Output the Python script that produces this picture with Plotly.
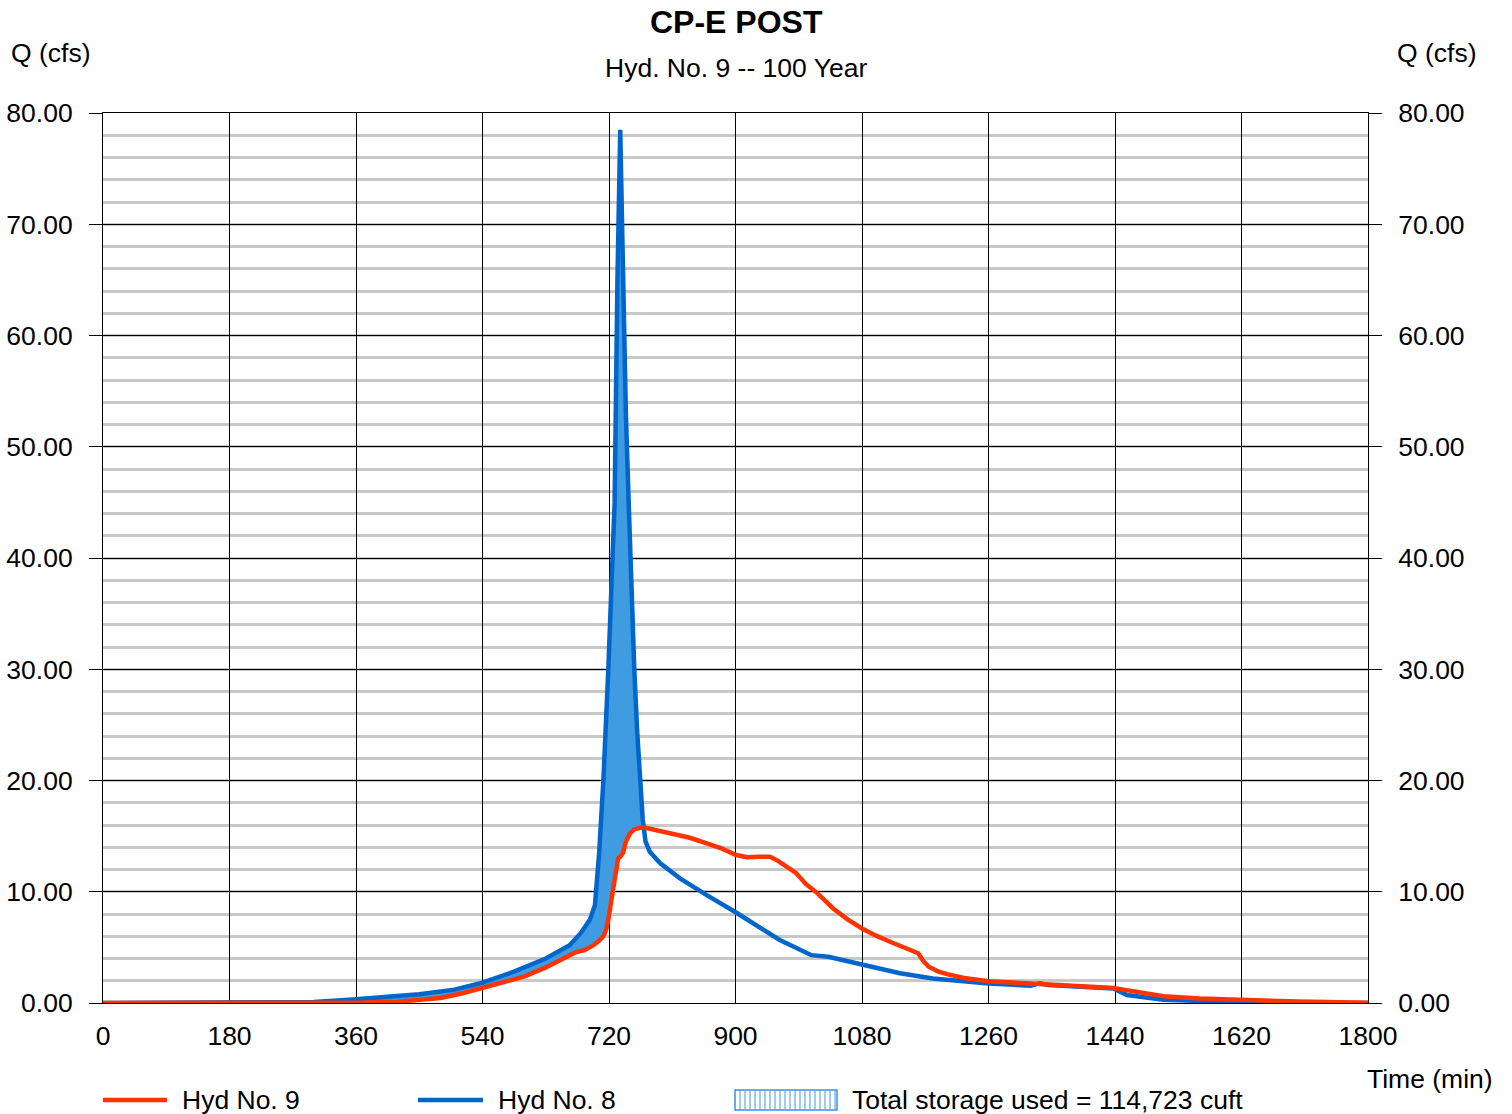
import numpy as np
import plotly.graph_objects as go

# ---------------- data ----------------
t_inflow = [0, 240, 300, 360, 400, 450, 500, 540, 584, 630, 664, 680, 693, 700, 706, 712, 719,
            724, 728, 732, 736, 738, 741, 744, 748, 752, 756, 760, 764, 768, 772, 778, 793,
            821, 859, 899, 963, 1008, 1032, 1080, 1134, 1181, 1260, 1320, 1333, 1345, 1438,
            1448, 1457, 1509, 1560, 1618, 1700, 1800]
q_inflow = [0, 0, 0.08, 0.33, 0.5, 0.78, 1.2, 1.83, 2.8, 4.0, 5.2, 6.3, 7.5, 8.8, 13.5, 20, 30,
            38, 45, 65, 78.5, 72, 62, 53, 45, 37, 30, 24.5, 20, 16.5, 14.5, 13.6, 12.55,
            11.2, 9.7, 8.2, 5.66, 4.3, 4.16, 3.42, 2.67, 2.2, 1.75, 1.55, 1.78, 1.62, 1.3,
            1.0, 0.72, 0.3, 0.15, 0.05, 0.01, 0]

t_outflow = [0, 300, 360, 420, 450, 480, 510, 540, 600, 630, 660, 672, 685, 698, 706, 712, 716,
             719, 724, 728.5, 733, 736, 740, 744, 750, 756, 764, 772, 790, 812, 835, 859, 880,
             901, 916, 935, 949, 960, 972, 986, 1000, 1016, 1039, 1060, 1080, 1100, 1125,
             1145, 1160, 1167, 1175, 1188, 1201, 1225, 1248, 1260, 1300, 1329, 1380, 1438,
             1452, 1480, 1509, 1560, 1618, 1700, 1800]
q_outflow = [0, 0, 0.03, 0.12, 0.25, 0.45, 0.85, 1.35, 2.4, 3.2, 4.2, 4.55, 4.75, 5.2, 5.6, 6.0,
             6.6, 7.46, 9.5, 11.06, 13.0, 13.15, 13.5, 14.5, 15.25, 15.6, 15.75, 15.75, 15.5,
             15.25, 14.85, 14.35, 13.9, 13.3, 13.1, 13.15, 13.15, 12.8, 12.3, 11.7, 10.7, 9.9,
             8.5, 7.5, 6.7, 6.05, 5.37, 4.85, 4.47, 3.8, 3.26, 2.85, 2.6, 2.25, 2.07, 1.95,
             1.82, 1.72, 1.55, 1.35, 1.2, 0.9, 0.6, 0.4, 0.27, 0.13, 0.02]

x_ticks = [0, 180, 360, 540, 720, 900, 1080, 1260, 1440, 1620, 1800]
y_ticks = [0, 10, 20, 30, 40, 50, 60, 70, 80]

title = "CP-E POST"
subtitle = "Hyd. No. 9 -- 100 Year"
name_out = "Hyd No. 9"
name_in = "Hyd No. 8"
storage_label = "Total storage used = 114,723 cuft"

RED = "#ff3300"
BLUE = "#0066cc"
FILL = "#409ce0"
FONT = "Liberation Sans, Arial, sans-serif"
FS = 26.5

# ---------------- geometry (page pixels) ----------------
W, H = 1512, 1114
L, R, T, B = 103, 1368, 113, 1003


def px(xp):
    return (xp - L) / (R - L)


def py(yp):
    return (B - yp) / (B - T)


# ---------------- storage fill (between inflow and outflow) ----------------
grid = np.union1d(t_inflow, t_outflow)
qi = np.interp(grid, t_inflow, q_inflow)
qo = np.interp(grid, t_outflow, q_outflow)
peak_t = t_inflow[int(np.argmax(q_inflow))]
after = (grid > peak_t) & (qi <= qo)
idx = np.where(after)[0][0]
t0, t1 = grid[idx - 1], grid[idx]
d0, d1 = qi[idx - 1] - qo[idx - 1], qi[idx] - qo[idx]
tc = t0 + (t1 - t0) * d0 / (d0 - d1)
mask = grid < tc
fx = np.append(grid[mask], tc)
f_low = np.interp(fx, t_outflow, q_outflow)
f_high = np.maximum(np.interp(fx, t_inflow, q_inflow), f_low)

fig = go.Figure()
fig.add_trace(go.Scatter(x=fx, y=f_low, mode="lines", line=dict(width=0),
                         hoverinfo="skip", showlegend=False))
fig.add_trace(go.Scatter(x=fx, y=f_high, mode="lines", line=dict(width=0),
                         fill="tonexty", fillcolor=FILL, hoverinfo="skip",
                         showlegend=False))
fig.add_trace(go.Scatter(x=t_inflow, y=q_inflow, mode="lines", name=name_in,
                         line=dict(color=BLUE, width=4.5), showlegend=False))
fig.add_trace(go.Scatter(x=t_outflow, y=q_outflow, mode="lines", name=name_out,
                         line=dict(color=RED, width=4.5), showlegend=False))
fig.add_trace(go.Scatter(x=[None], y=[None], yaxis="y2", showlegend=False,
                         hoverinfo="skip"))

fig.update_layout(
    width=W, height=H,
    margin=dict(l=L, r=W - R, t=T, b=H - B, pad=0),
    paper_bgcolor="white", plot_bgcolor="white",
    font=dict(family=FONT, size=FS, color="black"),
    showlegend=False,
    xaxis=dict(range=[0, 1800], tickvals=x_ticks, ticktext=[str(v) for v in x_ticks],
               showgrid=True, gridcolor="black", gridwidth=1,
               showline=True, linecolor="black", linewidth=1, mirror=True,
               ticks="", ticklabelstandoff=9, zeroline=False, automargin=False,
               tickfont=dict(size=FS)),
    yaxis=dict(range=[0, 80], tickvals=y_ticks, ticktext=[f"{v:.2f}" for v in y_ticks],
               showgrid=True, gridcolor="black", gridwidth=1,
               minor=dict(dtick=2, showgrid=True, gridcolor="#c8c8c8", gridwidth=2.5,
                          ticks=""),
               showline=True, linecolor="black", linewidth=1, mirror=True,
               ticks="outside", ticklen=13, tickcolor="black", tickwidth=1,
               ticklabelstandoff=11, zeroline=False, automargin=False,
               tickfont=dict(size=FS)),
    yaxis2=dict(range=[0, 80], tickvals=y_ticks, ticktext=[f"{v:.2f}" for v in y_ticks],
                overlaying="y", side="right", showgrid=False, zeroline=False,
                showline=False, ticks="outside", ticklen=13, tickcolor="black",
                tickwidth=1, ticklabelstandoff=11, automargin=False,
                tickfont=dict(size=FS)),
)

ann = [
    dict(text=f"<b>{title}</b>", x=px(736), y=py(22), font=dict(size=32),
         xanchor="center", yanchor="middle"),
    dict(text=subtitle, x=px(736), y=py(68), xanchor="center", yanchor="middle"),
    dict(text="Q (cfs)", x=px(9), y=py(53), xanchor="left", yanchor="middle"),
    dict(text="Q (cfs)", x=px(1479), y=py(53), xanchor="right", yanchor="middle"),
    dict(text="Time (min)", x=px(1495), y=py(1079), xanchor="right", yanchor="middle"),
    dict(text=name_out, x=px(180), y=py(1100), xanchor="left", yanchor="middle"),
    dict(text=name_in, x=px(496), y=py(1100), xanchor="left", yanchor="middle"),
    dict(text=storage_label, x=px(850), y=py(1100), xanchor="left", yanchor="middle"),
]
for a in ann:
    a.update(xref="paper", yref="paper", showarrow=False)
    fig.add_annotation(**a)

shapes = [
    dict(type="line", x0=px(103), x1=px(167), y0=py(1100), y1=py(1100),
         line=dict(color=RED, width=4.5)),
    dict(type="line", x0=px(418), x1=px(483), y0=py(1100), y1=py(1100),
         line=dict(color=BLUE, width=4.5)),
    dict(type="rect", x0=px(735), x1=px(837), y0=py(1110), y1=py(1090),
         line=dict(color="#3a8ee0", width=1.5), fillcolor="white"),
]
for xl in range(740, 836, 5):
    shapes.append(dict(type="line", x0=px(xl), x1=px(xl), y0=py(1109), y1=py(1091),
                       line=dict(color="#9fcdf0", width=2)))
for s in shapes:
    s.update(xref="paper", yref="paper", layer="above")
    fig.add_shape(**s)

fig.write_html(
    "out.html",
    config={"displayModeBar": False},
    post_script="document.body.style.margin='0';document.body.style.overflow='hidden';",
)
